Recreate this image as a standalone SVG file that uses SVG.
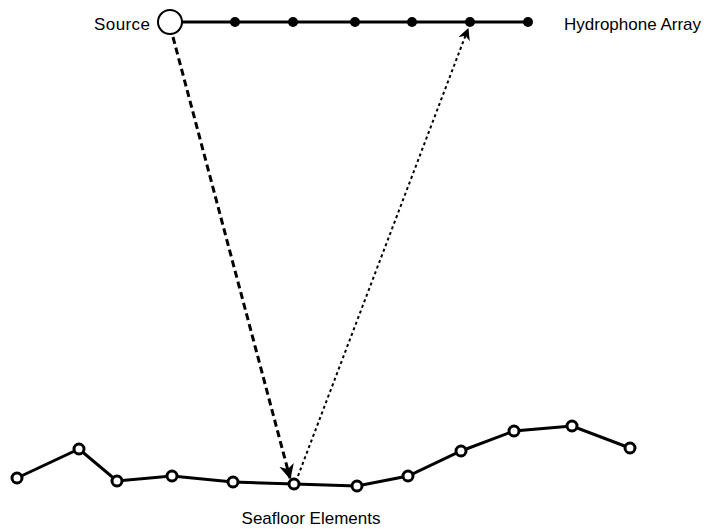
<svg xmlns="http://www.w3.org/2000/svg" width="709" height="529" viewBox="0 0 709 529">
<style>
text{font-family:"Liberation Sans",Arial,sans-serif;font-size:17px;fill:#000}
.ln{stroke:#000;stroke-width:3;fill:none}
.hp{fill:#000}
.sf{fill:#fff;stroke:#000;stroke-width:3}
</style>
<defs>
<marker id="ah" viewBox="0 0 10 10" refX="9" refY="5" markerWidth="5" markerHeight="5" orient="auto" markerUnits="strokeWidth"><path d="M0,0 L10,5 L0,10 L3,5 z" fill="#000"/></marker>
<marker id="ah2" viewBox="0 0 10 10" refX="9" refY="5" markerWidth="6" markerHeight="6" orient="auto" markerUnits="strokeWidth"><path d="M0,0 L10,5 L0,10 L3,5 z" fill="#000"/></marker>
</defs>
<g id="connectors">
<polyline class="ln" points="182,22 528,22"/>
<polyline class="ln" points="17,478 79,449 117,481 172,476 233,482 294,484 357,486 408,476 461,451 514,431 572,426 630,448"/>
<line x1="173" y1="37" x2="290" y2="478" stroke="#000" stroke-width="3" stroke-dasharray="7,4" marker-end="url(#ah)"/>
<line x1="298" y1="476" x2="468" y2="29" stroke="#000" stroke-width="2" stroke-dasharray="3,3" marker-end="url(#ah2)"/>
</g>
<g id="source"><circle cx="170" cy="22" r="12" fill="#fff" stroke="#000" stroke-width="2"/><text x="150" y="30" text-anchor="end" textLength="56">Source</text></g>
<g id="hydrophones">
<circle class="hp" cx="235" cy="22" r="5"/><circle class="hp" cx="293" cy="22" r="5"/><circle class="hp" cx="355" cy="22" r="5"/><circle class="hp" cx="412" cy="22" r="5"/><circle class="hp" cx="470" cy="22" r="5"/><circle class="hp" cx="528" cy="22" r="5"/>
<text x="564" y="30">Hydrophone Array</text>
</g>
<g id="seafloor">
<circle class="sf" cx="17" cy="478" r="5"/><circle class="sf" cx="79" cy="449" r="5"/><circle class="sf" cx="117" cy="481" r="5"/><circle class="sf" cx="172" cy="476" r="5"/><circle class="sf" cx="233" cy="482" r="5"/><circle class="sf" cx="294" cy="484" r="5"/><circle class="sf" cx="357" cy="486" r="5"/><circle class="sf" cx="408" cy="476" r="5"/><circle class="sf" cx="461" cy="451" r="5"/><circle class="sf" cx="514" cy="431" r="5"/><circle class="sf" cx="572" cy="426" r="5"/><circle class="sf" cx="630" cy="448" r="5"/>
<text x="311" y="524" text-anchor="middle">Seafloor Elements</text>
</g>
</svg>
